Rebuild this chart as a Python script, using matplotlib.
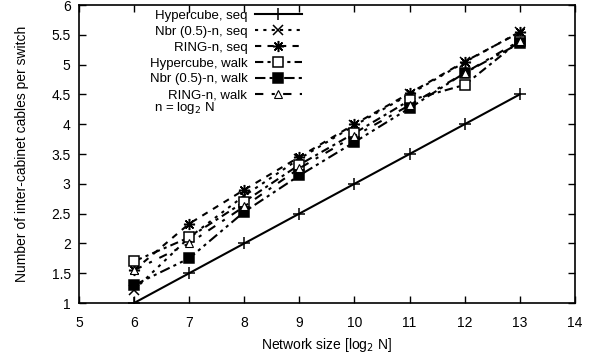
import matplotlib
matplotlib.use("Agg")
import matplotlib.pyplot as plt

plt.rcParams['font.family'] = ['Liberation Sans', 'DejaVu Sans']

n = [6, 7, 8, 9, 10, 11, 12, 13]
hyper_seq = [1.0, 1.5, 2.0, 2.5, 3.0, 3.5, 4.0, 4.5]
nbr_seq = [1.22, 2.1, 2.8, 3.42, 3.98, 4.5, 5.04, 5.55]
ring_seq = [1.55, 2.33, 2.9, 3.45, 4.0, 4.52, 5.05, 5.54]
hyper_walk = [1.7, 2.1, 2.7, 3.32, 3.85, 4.4, 4.66, 5.4]
nbr_walk = [1.3, 1.75, 2.53, 3.14, 3.7, 4.27, 4.86, 5.36]
ring_walk = [1.55, 2.0, 2.62, 3.26, 3.8, 4.32, 4.86, 5.4]

fig = plt.figure(figsize=(5.92, 3.58), dpi=100)
ax = fig.add_axes([0.1334, 0.1536, 0.8376, 0.8324])

kw = dict(color='black', lw=1.5, markeredgewidth=1.1)
ax.plot(n, hyper_seq, '-', marker='+', markersize=9, label='Hypercube, seq', **kw)
ax.plot(n, nbr_seq, linestyle=(0, (1.5, 2.5)), marker='x', markersize=7, label='Nbr (0.5)-n, seq', **kw)
ax.plot(n, ring_seq, linestyle=(0, (3, 3)), marker=(8, 2, 0), markersize=8, label='RING-n, seq', **kw)
ax.plot(n, hyper_walk, linestyle=(0, (4, 2, 1.5, 2)), marker='s', markersize=7, mfc='white',
        label='Hypercube, walk', **kw)
ax.plot(n, nbr_walk, linestyle=(0, (5, 2, 1.5, 2, 1.5, 2)), marker='s', markersize=7, mfc='black',
        label='Nbr (0.5)-n, walk', **kw)
ax.plot(n, ring_walk, linestyle=(0, (4, 4, 1.5, 4)), marker='^', mfc='white', label='RING-n, walk',
        color='black', lw=1.5, markersize=6, markeredgewidth=0.8)

ax.set_xlim(5, 14)
ax.set_ylim(1, 6)
ax.set_xticks(range(5, 15))
ax.set_yticks([1, 1.5, 2, 2.5, 3, 3.5, 4, 4.5, 5, 5.5, 6])
ax.set_yticklabels(['1', '1.5', '2', '2.5', '3', '3.5', '4', '4.5', '5', '5.5', '6'])
ax.tick_params(direction='in', top=True, right=True, length=5, width=1, labelsize=10)
ax.tick_params(axis='x', pad=9)
ax.tick_params(axis='y', pad=6)
for s in ax.spines.values():
    s.set_linewidth(1.2)
ax.set_xlabel(r'Network size [log$_2$ N]', fontsize=10, labelpad=5)
ax.set_ylabel('Number of inter-cabinet cables per switch', fontsize=10, labelpad=16)

leg = ax.legend(loc='upper right', bbox_to_anchor=(0.45, 0.985), markerfirst=False, frameon=False,
                fontsize=9.5, handlelength=3.6, labelspacing=0.28, borderaxespad=0, borderpad=0,
                handletextpad=0.55)
for t in leg.get_texts():
    t.set_ha('right')
leg._legend_box.align = 'right'

ax.text(0.212, 0.654, r'n = log$_2$ N', transform=ax.transAxes, ha='center', va='center', fontsize=9.5)

fig.savefig('out.png', dpi=100)
